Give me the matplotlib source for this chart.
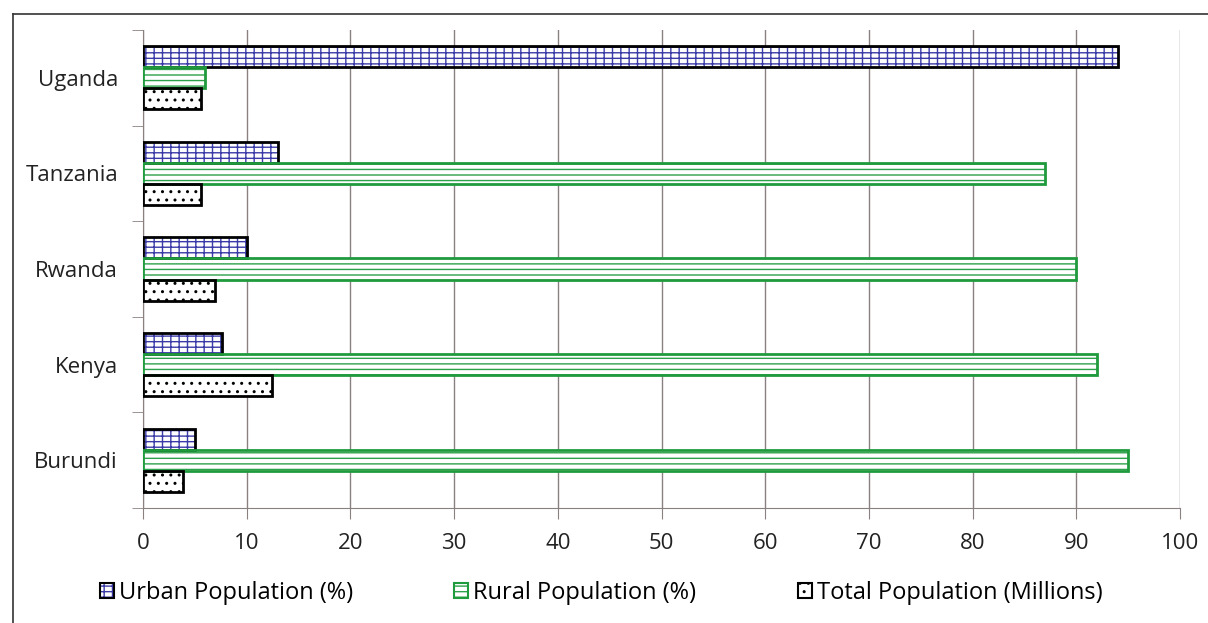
import numpy as np
import matplotlib.pyplot as plt
from matplotlib.patches import Patch
from matplotlib.lines import Line2D
from matplotlib.legend_handler import HandlerTuple

plt.rcParams['font.family'] = ['Open Sans', 'DejaVu Sans']
plt.rcParams['hatch.linewidth'] = 1.0

# data
countries = ['Burundi', 'Kenya', 'Rwanda', 'Tanzania', 'Uganda']
urban = [5, 7.6, 10, 13, 94]
rural = [95, 92, 90, 87, 6]
total = [3.9, 12.4, 6.9, 5.6, 5.6]
labels = ['Urban Population (%)', 'Rural Population (%)', 'Total Population (Millions)']

# style per series: hatch, hatch colour, outline colour
styles = [
    ('++-', '#3b3ba8', 'black'),
    ('---', '#2ca04a', '#1f9a3c'),
    ('..', 'black', 'black'),
]

fig = plt.figure(figsize=(12.08, 6.23), dpi=100)
ax = fig.add_axes([143/1208, 1 - 508/623, (1180 - 143)/1208, (508 - 30)/623])

y = np.arange(len(countries))
h = 0.22
offsets = [h, 0, -h]
handles = []
for vals, off, (hatch, hc, ec) in zip([urban, rural, total], offsets, styles):
    ax.barh(y + off, vals, height=h, color='white', edgecolor=hc, hatch=hatch, linewidth=0, zorder=3)
    ax.barh(y + off, vals, height=h, fill=False, edgecolor=ec, linewidth=2, zorder=4)
    p1 = Patch(facecolor='white', edgecolor=hc, hatch=hatch, linewidth=0)
    p2 = Patch(fill=False, edgecolor=ec, linewidth=1.5)
    handles.append((p1, p2))

ax.set_xlim(0, 100)
ax.set_ylim(-0.5, 4.5)
ax.set_xticks(np.arange(0, 101, 10))
ax.set_yticks(y)
ax.set_yticklabels(countries)
ax.set_yticks(np.arange(-0.5, 4.6, 1), minor=True)
ax.tick_params(axis='y', which='major', length=0, pad=18, labelsize=16, labelcolor='#222222')
ax.tick_params(axis='y', which='minor', length=8, color='#8a8080', direction='out')
ax.tick_params(axis='x', length=8, color='#8a8080', labelsize=16, labelcolor='#222222', pad=10)
ax.grid(axis='x', color='#8a8080', linewidth=1, zorder=0)
for s in ['top', 'right']:
    ax.spines[s].set_visible(False)
for s in ['left', 'bottom']:
    ax.spines[s].set_color('#8a8080')

fig.legend(handles, labels, handler_map={tuple: HandlerTuple(ndivide=1, pad=0)},
           loc='center', bbox_to_anchor=(0.4975, 1 - 593/623), ncol=3, frameon=False,
           fontsize=17, handlelength=0.6, handleheight=0.6, handletextpad=0.2,
           columnspacing=4.3, borderpad=0, borderaxespad=0)

# outer frame lines
fig.add_artist(Line2D([13/1208, 1], [1 - 14/623, 1 - 14/623], color='#333333', linewidth=1.2))
fig.add_artist(Line2D([13/1208, 13/1208], [0, 1 - 14/623], color='#333333', linewidth=1.2))

fig.savefig('out.png', dpi=100)
